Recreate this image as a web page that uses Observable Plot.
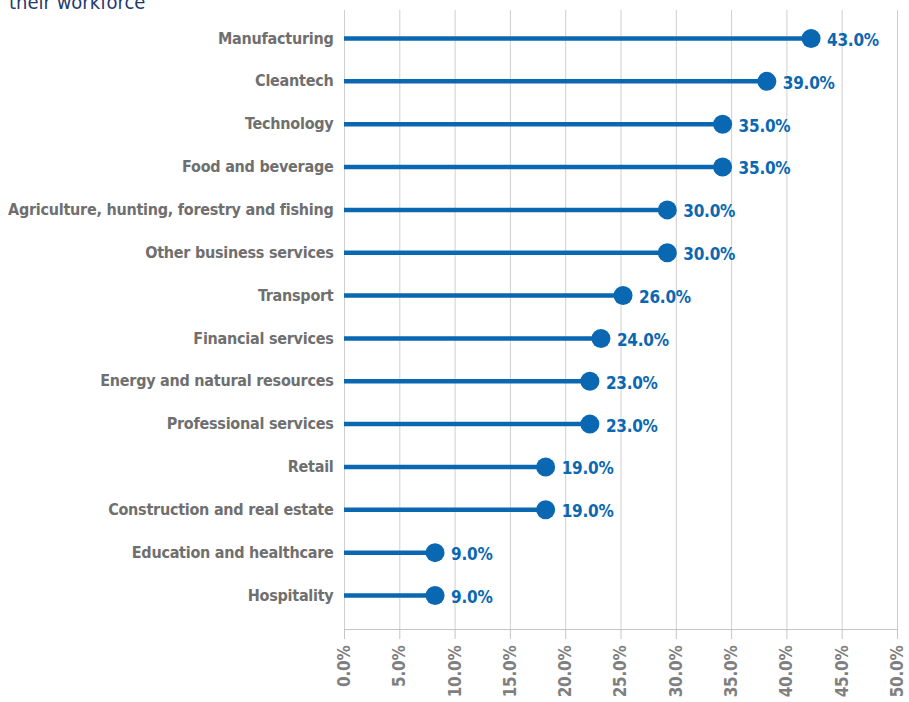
<!DOCTYPE html>
<html><head><meta charset="utf-8">
<script src="https://cdn.jsdelivr.net/npm/d3@7"></script>
<script src="https://cdn.jsdelivr.net/npm/@observablehq/plot@0.6"></script>
<style>
body{margin:0;background:#fff;overflow:hidden}
#wrap{position:relative;width:909px;height:702px;overflow:hidden;background:#fff}
#title{position:absolute;left:9px;top:-9px;font:20px "DejaVu Sans Condensed",sans-serif;color:#1f3b6e;line-height:22px;white-space:nowrap}
#chart{position:absolute;left:0;top:0}
</style></head><body>
<div id="wrap"><div id="chart"></div><div id="title">their workforce</div></div>
<script>
const categories = [
  "Manufacturing",
  "Cleantech",
  "Technology",
  "Food and beverage",
  "Agriculture, hunting, forestry and fishing",
  "Other business services",
  "Transport",
  "Financial services",
  "Energy and natural resources",
  "Professional services",
  "Retail",
  "Construction and real estate",
  "Education and healthcare",
  "Hospitality"
];
const values = [43, 39, 35, 35, 30, 30, 26, 24, 23, 23, 19, 19, 9, 9];
const xTicks = [0, 5, 10, 15, 20, 25, 30, 35, 40, 45, 50];

const data = categories.map((c, i) => ({category: c, value: values[i]}));
const blue = "#0a67b1";
const font = "'DejaVu Sans Condensed','Liberation Sans Narrow',sans-serif";
const pct = d => d.toFixed(1) + "%";

const chart = Plot.plot({
  width: 909,
  height: 702,
  marginLeft: 344,
  marginRight: 12,
  marginTop: 10,
  marginBottom: 73,
  style: {fontFamily: font, background: "#fff", letterSpacing: "-0.25px"},
  x: {domain: [0, 50]},
  y: {type: "point", domain: categories, range: [38, 595], padding: 0, round: false},
  marks: [
    Plot.gridX(xTicks, {stroke: "#cfcfcf", strokeOpacity: 1, strokeWidth: 1}),
    Plot.frame({anchor: "bottom", stroke: "#c4c4c4", strokeWidth: 1.2}),
    Plot.axisX({ticks: xTicks, tickFormat: pct, tickRotate: -90, tickSize: 10, tickPadding: 6,
      stroke: "#c4c4c4", fill: "#7f7f7f", fontSize: 17, fontWeight: "bold", label: null}),
    Plot.axisY({tickSize: 0, tickPadding: 11, fill: "#6f6f6f", fontSize: 16, fontWeight: "bold", label: null}),
    Plot.ruleY(data, {y: "category", x1: 0, x2: "value", stroke: blue, strokeWidth: 4.5, strokeLinecap: "butt"}),
    Plot.dot(data, {y: "category", x: "value", r: 9.5, fill: blue, dx: -9}),
    Plot.text(data, {y: "category", x: "value", text: d => pct(d.value), dx: 7, dy: 2, textAnchor: "start",
      fill: blue, fontSize: 17, fontWeight: "bold"})
  ]
});
document.getElementById("chart").appendChild(chart);
</script>
</body></html>
